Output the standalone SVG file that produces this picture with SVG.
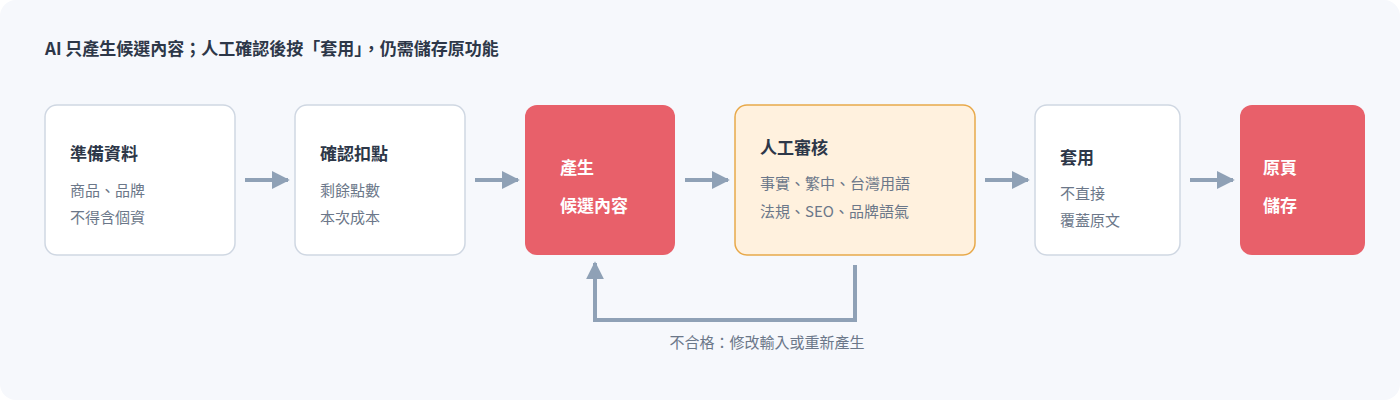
<svg xmlns="http://www.w3.org/2000/svg" width="1400" height="400" viewBox="0 0 1400 400">
<style>
text{font-family:"Noto Sans CJK TC","Noto Sans",sans-serif}
.t{font-size:17px;font-weight:700;fill:#2d3748}
.s{font-size:15px;fill:#6b7789}
.w{font-size:17px;font-weight:700;fill:#fff}
.box{fill:#fff;stroke:#cfd7e2;stroke-width:1.5}
.red{fill:#e8606a}
.c{stroke:#8fa1b6;stroke-width:4;fill:none}
</style>
<defs><marker id="a" viewBox="0 0 10 10" refX="9" refY="5" markerWidth="4.5" markerHeight="4.5" orient="auto" markerUnits="strokeWidth"><path d="M0,0L10,5L0,10z" fill="#8fa1b6"/></marker></defs>
<rect x="0" y="0" width="1400" height="400" rx="16" fill="#f6f8fc"/>
<text x="45" y="55" style="font-size:17px;font-weight:700;fill:#2d3748">AI 只產生候選內容；人工確認後按「套用」，仍需儲存原功能</text>
<g id="n1"><rect class="box" x="45" y="105" width="190" height="150" rx="12"/><text class="t" x="70" y="160">準備資料</text><text class="s" x="70" y="196">商品、品牌</text><text class="s" x="70" y="223">不得含個資</text></g>
<g id="n2"><rect class="box" x="295" y="105" width="170" height="150" rx="12"/><text class="t" x="320" y="160">確認扣點</text><text class="s" x="320" y="196">剩餘點數</text><text class="s" x="320" y="223">本次成本</text></g>
<g id="n3"><rect class="red" x="525" y="105" width="150" height="150" rx="12"/><text class="w" x="560" y="174">產生</text><text class="w" x="560" y="212">候選內容</text></g>
<g id="n4"><rect x="735" y="105" width="240" height="150" rx="12" fill="#fff1de" stroke="#e8a94a" stroke-width="1.5"/><text class="t" x="760" y="154">人工審核</text><text class="s" x="760" y="189">事實、繁中、台灣用語</text><text class="s" x="760" y="217">法規、SEO、品牌語氣</text></g>
<g id="n5"><rect class="box" x="1035" y="105" width="145" height="150" rx="12"/><text class="t" x="1060" y="164">套用</text><text class="s" x="1060" y="199">不直接</text><text class="s" x="1060" y="226">覆蓋原文</text></g>
<g id="n6"><rect class="red" x="1240" y="105" width="125" height="150" rx="12"/><text class="w" x="1263" y="174">原頁</text><text class="w" x="1263" y="212">儲存</text></g>
<g id="connectors">
<line class="c" x1="245" y1="180" x2="288" y2="180" marker-end="url(#a)"/>
<line class="c" x1="475" y1="180" x2="518" y2="180" marker-end="url(#a)"/>
<line class="c" x1="685" y1="180" x2="728" y2="180" marker-end="url(#a)"/>
<line class="c" x1="985" y1="180" x2="1028" y2="180" marker-end="url(#a)"/>
<line class="c" x1="1190" y1="180" x2="1233" y2="180" marker-end="url(#a)"/>
<path class="c" d="M855,265V320H595V263" marker-end="url(#a)"/>
<text class="s" x="767" y="348" text-anchor="middle">不合格：修改輸入或重新產生</text>
</g>
</svg>
